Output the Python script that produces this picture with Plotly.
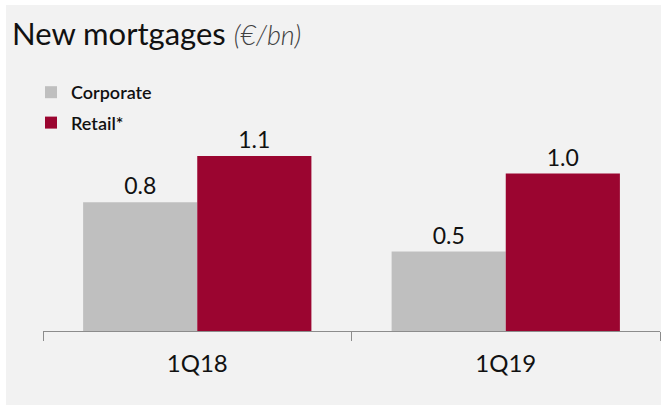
import plotly.graph_objects as go

categories = ["1Q18", "1Q19"]
corporate = [0.81, 0.50]
retail = [1.10, 0.99]
series_names = ["Corporate", "Retail*"]
title_main = "New mortgages"
title_unit = "(€/bn)"

W, H = 661, 405
ml, mr, mt, mb = 43, 1, 100, 74

fig = go.Figure()
fig.add_trace(go.Bar(
    x=categories, y=corporate, name=series_names[0],
    marker=dict(color="#bfbfbf", line=dict(width=0)),
    texttemplate="%{y:.1f}", textposition="outside",
    textfont=dict(family="Lato", size=23, color="#111111"),
    legendgroup="a", cliponaxis=False,
))
fig.add_trace(go.Bar(
    x=categories, y=retail, name=series_names[1],
    marker=dict(color="#9b0530", line=dict(width=0)),
    texttemplate="%{y:.1f}", textposition="outside",
    textfont=dict(family="Lato", size=23, color="#111111"),
    legendgroup="b", cliponaxis=False,
))

pw = W - ml - mr
ph = H - mt - mb
fig.add_shape(type="rect", xref="paper", yref="paper", layer="below",
              x0=(6 - ml) / pw, x1=(W - ml + 5) / pw,
              y0=-(mb + 5) / ph, y1=1 + (mt - 5) / ph,
              fillcolor="#f2f2f2", line=dict(width=0))

fig.update_layout(
    width=W, height=H,
    margin=dict(l=ml, r=mr, t=mt, b=mb),
    paper_bgcolor="white", plot_bgcolor="rgba(0,0,0,0)",
    barmode="group", bargap=0.26, bargroupgap=0,
    font=dict(family="Lato", color="#111111"),
    title=dict(
        text=f"{title_main} <i><span style='font-size:27px;color:#404040;font-weight:300'>{title_unit}</span></i>",
        x=12 / W, xanchor="left", xref="container",
        y=1 - 34 / H, yanchor="middle", yref="container",
        font=dict(family="Lato", size=31, color="#111111"),
    ),
    legend=dict(
        x=(31 - ml) / pw, y=1 + (mt - 74) / ph, xanchor="left", yanchor="top",
        bgcolor="rgba(0,0,0,0)", font=dict(family="Lato", size=18, color="#111111", weight=600),
        tracegroupgap=4, itemclick=False,
    ),
    showlegend=True,
    xaxis=dict(
        showline=True, linecolor="#8c8c8c", linewidth=1,
        ticks="outside", tickcolor="#8c8c8c", ticklen=9, tickson="boundaries",
        tickfont=dict(family="Lato", size=24, color="#111111"),
        ticklabelstandoff=11,
        showgrid=False, fixedrange=True,
    ),
    yaxis=dict(visible=False, range=[0, ph / 159], fixedrange=True),
)

fig.write_html("out.html", config={"displayModeBar": False},
               post_script="document.body.style.margin='0';document.body.style.overflow='hidden';")
